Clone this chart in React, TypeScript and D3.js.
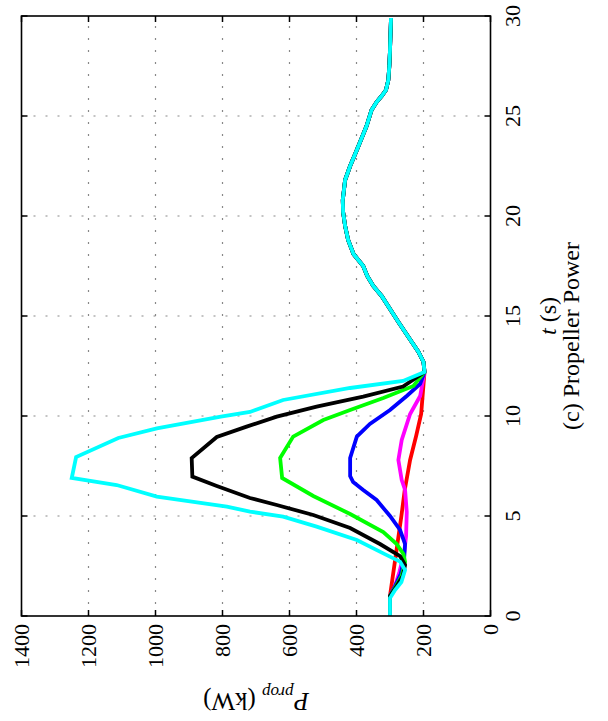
import React from "react";
import * as d3 from "d3";

// time (s) / propeller power (kW)
const head: [number, number][] = [[0, 300], [0.9, 300]];
const tail: [number, number][] = [
  [12.2, 197], [12.7, 200], [13.2, 215], [13.7, 235], [14.2, 255], [14.7, 275],
  [15.3, 298], [16, 325], [16.5, 350], [17.0, 368], [17.5, 380], [18.1, 409],
  [18.8, 425], [19.5, 434], [20.2, 440], [20.8, 441], [21.8, 434], [22.5, 419],
  [23.3, 399], [24.0, 382], [24.5, 370], [25.3, 355], [25.7, 340], [26.0, 325],
  [26.3, 312], [26.8, 305], [27.5, 302], [28.3, 300], [29.9, 297],
];

const redPts: [number, number][] = [
  [1.0, 300], [3, 283], [5, 266], [6.3, 256], [7.8, 240], [9, 222], [10.1, 207],
];
const magentaPts: [number, number][] = [
  [1.0, 300], [1.5, 285], [2.2, 272], [3.1, 258], [4.0, 252], [5.2, 250],
  [6.3, 255], [6.8, 265], [7.8, 275], [8.8, 265], [10.1, 240], [11.0, 210],
];
const bluePts: [number, number][] = [
  [1.0, 300], [1.5, 285], [2.1, 268], [2.8, 258], [3.6, 255], [4.3, 270],
  [5.0, 300], [5.8, 340], [6.3, 380], [6.7, 410], [7.0, 419], [7.9, 419],
  [8.97, 399], [9.6, 360], [10.3, 300], [11.0, 250], [11.6, 210],
];
const greenPts: [number, number][] = [
  [1.0, 300], [1.5, 282], [2.0, 265], [2.7, 255], [3.1, 260], [3.6, 280],
  [4.2, 320], [5.1, 419], [6.0, 529], [6.9, 622], [7.9, 628], [8.97, 589],
  [9.8, 499], [10.3, 419], [10.9, 320], [11.5, 230],
];
const blackPts: [number, number][] = [
  [1.0, 300], [1.5, 280], [2.0, 262], [2.55, 255], [3.0, 270], [3.6, 330],
  [4.4, 419], [5.05, 529], [5.55, 638], [5.9, 718], [6.5, 817], [6.97, 890],
  [7.9, 892], [8.95, 817], [9.47, 728], [9.97, 638], [10.47, 519], [10.97, 380],
  [11.47, 261],
];
const cyanPts: [number, number][] = [
  [1.0, 296], [1.3, 285], [1.7, 266], [2.3, 255], [2.72, 270], [3.13, 320],
  [3.8, 399], [4.47, 519], [4.97, 619], [5.22, 718], [5.47, 787], [5.97, 996],
  [6.55, 1116], [6.9, 1250], [7.95, 1237], [8.9, 1111], [9.38, 996], [9.97, 805],
  [10.2, 718], [10.8, 619], [11.4, 419], [11.75, 261],
];

const series = [
  { name: "red", color: "#ff0000", pts: redPts },
  { name: "magenta", color: "#ff00ff", pts: magentaPts },
  { name: "blue", color: "#0000ff", pts: bluePts },
  { name: "green", color: "#00ff00", pts: greenPts },
  { name: "black", color: "#000000", pts: blackPts },
  { name: "cyan", color: "#00ffff", pts: cyanPts },
];

const tTicks = [0, 5, 10, 15, 20, 25, 30];
const pTicks = [0, 200, 400, 600, 800, 1000, 1200, 1400];

const FONT =
  "'Liberation Serif', 'Nimbus Roman', Tinos, 'DejaVu Serif Condensed', 'DejaVu Serif', serif";

export default function App() {
  // chart is drawn upright then turned a quarter turn counter-clockwise
  const W = 600;
  const H = 469;

  const x = d3.scaleLinear().domain([0, 30]).range([0, W]);
  const y = d3.scaleLinear().domain([0, 1400]).range([H, 0]);

  const line = d3
    .line<[number, number]>()
    .x(d => x(d[0]))
    .y(d => y(d[1]));

  return (
    <div style={{ position: "absolute", left: 0, top: 0 }}>
      <svg width={608} height={721} style={{ display: "block", background: "#fff" }}>
        <g transform="translate(21.5,616) rotate(-90)" fontFamily={FONT}
          style={{ fontStretch: "condensed" }} fill="#000">
          {/* grid */}
          {tTicks.slice(1, -1).map(t => (
            <line key={"gt" + t} x1={x(t)} x2={x(t)} y1={0} y2={H}
              stroke="#888" strokeWidth={1.2} strokeDasharray="2,10" />
          ))}
          {pTicks.slice(1, -1).map(p => (
            <line key={"gp" + p} x1={0} x2={W} y1={y(p)} y2={y(p)}
              stroke="#888" strokeWidth={1.2} strokeDasharray="2,10" />
          ))}

          {/* curves */}
          {series.map(s => (
            <path key={s.name} d={line([...head, ...s.pts, ...tail]) || ""}
              fill="none" stroke={s.color} strokeWidth={3.8} />
          ))}

          {/* box + ticks */}
          <rect x={0} y={0} width={W} height={H} fill="none" stroke="#000" strokeWidth={1.6} />
          {tTicks.map(t => (
            <g key={"tt" + t}>
              <line x1={x(t)} x2={x(t)} y1={H} y2={H - 6} stroke="#000" strokeWidth={1.5} />
              <line x1={x(t)} x2={x(t)} y1={0} y2={6} stroke="#000" strokeWidth={1.5} />
              <text x={x(t)} y={H + 29} textAnchor="middle" fontSize={22}>{t}</text>
            </g>
          ))}
          {pTicks.map(p => (
            <g key={"tp" + p}>
              <line x1={0} x2={6} y1={y(p)} y2={y(p)} stroke="#000" strokeWidth={1.5} />
              <line x1={W} x2={W - 6} y1={y(p)} y2={y(p)} stroke="#000" strokeWidth={1.5} />
              <text x={-8} y={y(p)} dy="0.35em" textAnchor="end" fontSize={22}>{p}</text>
            </g>
          ))}

          {/* axis titles */}
          <text x={W / 2} y={H + 65} textAnchor="middle" fontSize={24}>
            <tspan fontStyle="italic">t</tspan> (s)
          </text>
          <text x={280} y={H + 88} textAnchor="middle" fontSize={24}>
            (c) Propeller Power
          </text>
          <text transform={`translate(-77,${H / 2}) rotate(-90)`} textAnchor="middle" fontSize={25}>
            <tspan fontStyle="italic">P</tspan>
            <tspan fontStyle="italic" fontSize={17} dy={6}>prop</tspan>
            <tspan dy={-6}> (kW)</tspan>
          </text>
        </g>
      </svg>
    </div>
  );
}
